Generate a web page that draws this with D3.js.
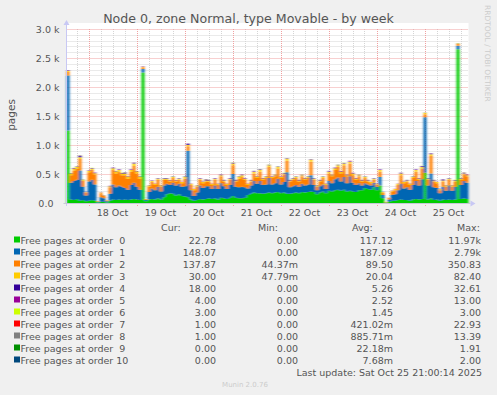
<!DOCTYPE html>
<html><head><meta charset="utf-8">
<script src="https://cdn.jsdelivr.net/npm/d3@7/dist/d3.min.js"></script>
<style>
body{margin:0;background:#f0f0f0}
svg{display:block}
text{font-family:"DejaVu Sans",sans-serif;white-space:pre}
</style>
</head><body>
<svg id="c" width="497" height="395"></svg>
<script>
// ---- data (1.5 h steps) ----
const title = "Node 0, zone Normal, type Movable - by week";
const seriesNames = ["Free pages at order  0","Free pages at order  1","Free pages at order  2","Free pages at order  3","Free pages at order  4","Free pages at order  5","Free pages at order  6","Free pages at order  7","Free pages at order  8","Free pages at order  9","Free pages at order 10"];
const seriesColors = ["#00CC00","#0066B3","#FF8000","#FFCC00","#330099","#990099","#CCFF00","#FF0000","#808080","#008F00","#00487D"];
const yTickValues = [0,500,1000,1500,2000,2500,3000];
const yTickLabels = ["0.0  ","0.5 k","1.0 k","1.5 k","2.0 k","2.5 k","3.0 k"];
const xTickLabels = ["18 Oct","19 Oct","20 Oct","21 Oct","22 Oct","23 Oct","24 Oct","25 Oct"];
const statCur = ["22.78","148.07","137.87","30.00","18.00","4.00","3.00","1.00","1.00","0.00","0.00"];
const statMin = ["0.00","0.00","44.37m","47.79m","0.00","0.00","0.00","0.00","0.00","0.00","0.00"];
const statAvg = ["117.12","187.09","89.50","20.04","5.26","2.52","1.45","421.02m","885.71m","22.18m","7.68m"];
const statMax = ["11.97k","2.79k","350.83","82.40","32.61","13.00","3.00","22.93","13.39","1.91","2.00"];

const order0 = [
1250,60,50,70,40,50,30,40,50,40,
10,20,20,10,40,60,50,60,50,60,
50,60,70,60,50,2250,30,60,70,60,
80,60,100,150,170,160,130,150,120,110,
100,60,40,50,70,60,70,80,70,80,
60,90,80,70,90,120,90,80,80,90,
140,160,180,170,170,160,170,180,170,180,
190,170,180,160,160,170,180,170,190,180,
190,200,190,150,180,200,170,210,200,220,
230,210,230,200,210,200,190,220,220,260,
240,230,270,220,300,80,5,20,40,40,
50,60,50,50,40,60,70,60,70,520,
60,80,50,60,40,60,50,60,50,60,
2650,70,80,70];
const order1 = [
950,290,330,330,520,230,100,330,350,280,
10,80,60,20,120,260,220,240,230,200,
180,250,280,220,180,60,20,130,180,160,
200,140,200,180,140,190,170,180,160,180,
800,160,80,130,230,200,220,210,170,220,
180,250,210,170,220,380,190,190,200,180,
110,140,200,160,210,150,150,250,150,160,
230,150,180,370,110,120,130,110,140,120,
130,280,120,70,110,120,70,170,140,190,
210,160,220,140,250,150,120,120,80,80,
80,70,80,60,150,60,5,40,100,110,
170,270,200,220,190,250,310,240,340,960,
240,430,220,200,130,220,160,240,160,220,
60,240,300,280];
const order2 = [
60,130,180,190,200,100,50,160,170,170,
10,70,40,15,110,250,240,240,200,220,
190,230,290,230,190,30,15,90,110,90,
120,80,100,70,60,80,70,70,60,130,
80,90,100,100,100,80,80,80,70,100,
70,120,80,70,90,150,90,150,170,130,
60,70,130,100,160,90,110,190,110,120,
170,110,130,200,100,110,120,90,130,100,
110,230,90,60,80,110,70,130,120,160,
180,140,200,120,220,130,90,120,70,90,
50,40,50,35,90,40,5,25,60,70,
90,150,90,100,80,120,160,100,180,50,
100,300,100,80,50,90,70,100,70,90,
30,90,110,110];
const order3 = [
20,25,30,30,30,20,10,25,25,25,
5,10,10,5,20,30,30,30,30,30,
30,30,40,30,30,10,5,20,20,20,
20,20,20,20,20,20,20,20,20,30,
20,20,20,20,20,20,20,20,20,20,
20,20,20,20,20,30,20,30,30,20,
20,20,30,20,30,20,20,30,20,20,
30,20,20,30,20,20,20,20,20,20,
20,30,20,20,20,20,20,30,20,30,
30,30,30,20,30,30,20,20,20,20,
20,20,20,15,30,10,5,5,10,20,
20,30,20,20,20,20,30,20,30,20,
20,30,20,20,20,20,20,20,20,20,
10,20,20,20];
const order4 = [
8,6,10,8,25,5,3,6,7,6,
1,3,2,1,4,7,6,7,6,18,
6,7,9,6,5,4,1,4,5,4,
5,4,5,5,4,6,4,5,4,6,
20,4,3,4,6,5,15,5,4,6,
4,7,5,4,6,12,5,6,7,6,
4,5,7,6,10,5,6,8,5,6,
8,5,6,9,5,5,6,5,6,5,
6,12,5,4,5,6,4,7,6,7,
8,7,8,6,10,7,5,6,5,6,
5,4,5,4,7,2,0,1,3,3,
4,7,5,5,4,6,7,5,15,6,
5,12,5,4,3,14,4,5,4,5,
4,5,12,6];
const order5 = [
3,3,4,3,5,2,1,3,3,3,
0,1,1,0,2,3,3,3,3,4,
3,3,4,3,3,2,0,2,2,2,
2,2,2,2,2,3,2,2,2,3,
4,2,2,2,3,2,5,2,2,3,
2,3,2,2,3,4,2,3,3,3,
2,2,3,3,4,2,3,3,2,3,
3,2,3,4,2,2,3,2,3,2,
3,4,2,2,2,3,2,3,3,3,
3,3,3,2,4,3,2,3,2,3,
2,2,2,2,3,1,0,0,1,1,
2,3,2,2,2,3,3,2,4,2,
2,4,2,2,1,4,2,2,2,3,
2,2,4,4];
const order6 = [
2,2,2,2,3,1,1,2,2,2,
0,1,1,0,1,2,2,2,2,2,
2,2,2,2,2,1,0,1,1,1,
1,1,1,1,1,2,1,1,1,2,
2,1,1,1,2,1,2,1,1,2,
1,2,1,1,2,2,1,2,2,2,
1,1,2,2,2,1,2,2,1,2,
2,1,2,2,1,1,2,1,2,1,
2,2,1,1,1,2,1,2,2,2,
2,2,2,1,2,2,1,2,1,2,
1,1,1,1,2,1,0,0,1,1,
1,2,1,1,1,2,2,1,2,1,
1,2,1,1,1,2,1,1,1,2,
1,1,3,3];
const order7 = [
1,0,1,0,2,0,0,0,1,0,
0,0,0,0,0,1,0,1,0,1,
0,0,1,0,0,0,0,0,0,0,
0,0,0,0,0,1,0,0,0,0,
2,0,0,0,1,0,1,0,0,0,
0,1,0,0,0,1,0,0,1,0,
0,0,1,0,1,0,0,1,0,0,
1,0,0,1,0,0,0,0,1,0,
0,1,0,0,0,0,0,1,0,1,
1,0,1,0,1,0,0,0,0,0,
0,0,0,0,1,0,0,0,0,0,
0,1,0,0,0,0,1,0,1,0,
0,1,0,0,0,1,0,0,0,0,
0,0,1,1];
const order8 = [
1,1,1,1,2,1,0,1,1,1,
0,0,1,0,1,1,1,1,1,1,
1,1,1,1,1,1,0,1,1,1,
1,1,1,1,1,1,1,1,1,1,
2,1,0,1,1,1,1,1,1,1,
1,1,1,1,1,1,1,1,1,1,
1,1,1,1,1,1,1,1,1,1,
1,1,1,1,1,1,1,1,1,1,
1,1,1,0,1,1,1,1,1,1,
1,1,1,1,1,1,1,1,1,1,
1,1,1,1,1,0,0,0,0,1,
1,1,1,1,1,1,1,1,1,1,
1,1,1,1,1,1,1,1,1,1,
1,1,1,1];
const order9 = [
0,0,0,0,1,0,0,0,0,0,
0,0,0,0,0,0,0,0,0,0,
0,0,0,0,0,0,0,0,0,0,
0,0,0,0,0,0,0,0,0,0,
1,0,0,0,0,0,0,0,0,0,
0,0,0,0,0,0,0,0,0,0,
0,0,0,0,0,0,0,0,0,0,
0,0,0,0,0,0,0,0,0,0,
0,0,0,0,0,0,0,0,0,0,
0,0,0,0,0,0,0,0,0,0,
0,0,0,0,0,0,0,0,0,0,
0,0,0,0,0,0,0,0,0,0,
0,0,0,0,0,0,0,0,0,0,
0,0,0,0];
const order10 = [
0,0,0,0,0,0,0,0,0,0,
0,0,0,0,0,0,0,0,0,0,
0,0,0,0,0,0,0,0,0,0,
0,0,0,0,0,0,0,0,0,0,
1,0,0,0,0,0,0,0,0,0,
0,0,0,0,0,0,0,0,0,0,
0,0,0,0,0,0,0,0,0,0,
0,0,0,0,0,0,0,0,0,0,
0,0,0,0,0,0,0,0,0,0,
0,0,0,0,0,0,0,0,0,0,
0,0,0,0,0,0,0,0,0,0,
0,0,0,0,0,0,0,0,0,0,
0,0,0,0,0,0,0,0,0,0,
0,0,0,0];
const allSeries = [order0,order1,order2,order3,order4,order5,order6,order7,order8,order9,order10];

// ---- time axis ----
const startTime = Date.UTC(2025,9,17,13,0);
const endTime = Date.UTC(2025,9,25,22,0);
const stepMs = 90*60*1000;

const svg = d3.select("#c");
const W = 497, H = 395;
const PL = 66.5, PR = 468.5, PT = 29, PB = 203;

const x = d3.scaleUtc().domain([new Date(startTime), new Date(endTime)]).range([PL, PR]);
const y = d3.scaleLinear().domain([0, 3000]).range([PB, PT]);

const defs = svg.append("defs");
const flt = defs.append("filter").attr("id","soft").attr("x","-5%").attr("y","-5%").attr("width","110%").attr("height","110%");
flt.append("feGaussianBlur").attr("stdDeviation","0.9 0.3");

svg.append("rect").attr("width",W).attr("height",H).attr("fill","#f0f0f0");
svg.append("rect").attr("x",PL).attr("y",PT-6).attr("width",PR-PL).attr("height",PB-PT+6).attr("fill","#ffffff");

// grid
const gGrid = svg.append("g");
const minorY = d3.range(100, 3001, 100).filter(v => v % 500 !== 0);
gGrid.selectAll(".my").data(minorY).join("line")
  .attr("x1",PL).attr("x2",PR)
  .attr("y1",d=>Math.round(y(d))+0.5).attr("y2",d=>Math.round(y(d))+0.5)
  .attr("stroke","#d4d4d4").attr("stroke-dasharray","1,1");
const hours6 = d3.utcHour.every(6).range(new Date(startTime), new Date(endTime)).filter(d=>d.getUTCHours()!==0);
gGrid.selectAll(".mx").data(hours6).join("line")
  .attr("y1",PT).attr("y2",PB)
  .attr("x1",d=>Math.round(x(d))+0.5).attr("x2",d=>Math.round(x(d))+0.5)
  .attr("stroke","#d4d4d4").attr("stroke-dasharray","1,1");
gGrid.selectAll(".Mj").data(yTickValues.filter(v=>v>0)).join("line")
  .attr("x1",PL).attr("x2",PR)
  .attr("y1",d=>Math.round(y(d))+0.5).attr("y2",d=>Math.round(y(d))+0.5)
  .attr("stroke","#f0a0a0").attr("stroke-dasharray","1,1");
const days = d3.utcDay.range(new Date(startTime), new Date(endTime));
gGrid.selectAll(".Mx").data(days).join("line")
  .attr("y1",PT).attr("y2",PB+3)
  .attr("x1",d=>Math.round(x(d))+0.5).attr("x2",d=>Math.round(x(d))+0.5)
  .attr("stroke","#f0a0a0").attr("stroke-dasharray","1,1");

// stacked areas
const n = order0.length;
const rows = d3.range(n+1).map(i => {
  const r = {t: new Date(startTime + i*stepMs)};
  allSeries.forEach((s,k)=>{ r["s"+k] = s[Math.min(i,n-1)]; });
  return r;
});
const keys = allSeries.map((s,k)=>"s"+k);
const stacked = d3.stack().keys(keys)(rows);
const area = d3.area().curve(d3.curveStepAfter)
  .x(d=>x(d.data.t)).y0(d=>y(d[0])).y1(d=>y(d[1]));
svg.append("g").attr("filter","url(#soft)").selectAll("path").data(stacked).join("path")
  .attr("d",area).attr("fill",(d,i)=>seriesColors[i]);

// axes
const axisColor = "#c8c8f4";
svg.append("line").attr("x1",PL).attr("x2",PL).attr("y1",PB+3).attr("y2",PT-6).attr("stroke",axisColor);
svg.append("line").attr("x1",PL-3).attr("x2",PR+2).attr("y1",PB+0.5).attr("y2",PB+0.5).attr("stroke","#c8c8d8");
svg.append("path").attr("d",`M${PL-3},${PT-4} L${PL+3},${PT-4} L${PL},${PT-9} Z`).attr("fill",axisColor);
svg.append("path").attr("d",`M${PR+2},${PB-2.5} L${PR+2},${PB+3.5} L${PR+7},${PB+0.5} Z`).attr("fill",axisColor);

const textColor = "#555";
// y ticks
svg.append("g").selectAll("text").data(yTickValues).join("text")
  .attr("x",59.5).attr("y",d=>y(d)+3.5).attr("text-anchor","end")
  .attr("font-size",9.5).attr("fill",textColor).text((d,i)=>yTickLabels[i]);
// x ticks at noon
const noons = days.map(d=>new Date(d.getTime()+12*3600*1000));
svg.append("g").selectAll("text").data(noons).join("text")
  .attr("x",d=>x(d)).attr("y",215.5).attr("text-anchor","middle")
  .attr("font-size",9.5).attr("fill",textColor).text((d,i)=>xTickLabels[i]);

// title & labels
svg.append("text").attr("x",248.5).attr("y",23).attr("text-anchor","middle")
  .attr("font-size",12.6).attr("fill",textColor).text(title);
svg.append("text").attr("transform","translate(14.5,115) rotate(-90)").attr("text-anchor","middle")
  .attr("font-size",10.5).attr("fill",textColor).text("pages");
svg.append("text").attr("transform","translate(484.5,5) rotate(90)").attr("text-anchor","start")
  .attr("font-size",7.5).attr("fill","#cccccc").text("RRDTOOL / TOBI OETIKER");

// legend
const lg = svg.append("g");
const hdrY = 230.5;
lg.append("text").attr("x",161).attr("y",hdrY).attr("font-size",9.5).attr("fill",textColor).text("Cur:");
lg.append("text").attr("x",258).attr("y",hdrY).attr("font-size",9.5).attr("fill",textColor).text("Min:");
lg.append("text").attr("x",352).attr("y",hdrY).attr("font-size",9.5).attr("fill",textColor).text("Avg:");
lg.append("text").attr("x",457).attr("y",hdrY).attr("font-size",9.5).attr("fill",textColor).text("Max:");
const rowY = i => 243.5 + i*12;
seriesNames.forEach((nm,i)=>{
  lg.append("rect").attr("x",14).attr("y",rowY(i)-7).attr("width",6).attr("height",6).attr("fill",seriesColors[i]);
  lg.append("text").attr("x",20.5).attr("y",rowY(i)).attr("font-size",9.5).attr("fill",textColor).text(nm);
  lg.append("text").attr("x",216).attr("y",rowY(i)).attr("text-anchor","end").attr("font-size",9.5).attr("fill",textColor).text(statCur[i]);
  lg.append("text").attr("x",298).attr("y",rowY(i)).attr("text-anchor","end").attr("font-size",9.5).attr("fill",textColor).text(statMin[i]);
  lg.append("text").attr("x",393).attr("y",rowY(i)).attr("text-anchor","end").attr("font-size",9.5).attr("fill",textColor).text(statAvg[i]);
  lg.append("text").attr("x",481).attr("y",rowY(i)).attr("text-anchor","end").attr("font-size",9.5).attr("fill",textColor).text(statMax[i]);
});
lg.append("text").attr("x",482).attr("y",376).attr("text-anchor","end").attr("font-size",9.5).attr("fill",textColor).text("Last update: Sat Oct 25 21:00:14 2025");
lg.append("text").attr("x",245).attr("y",387).attr("text-anchor","middle").attr("font-size",7).attr("fill","#cccccc").text("Munin 2.0.76");
</script>
</body></html>
